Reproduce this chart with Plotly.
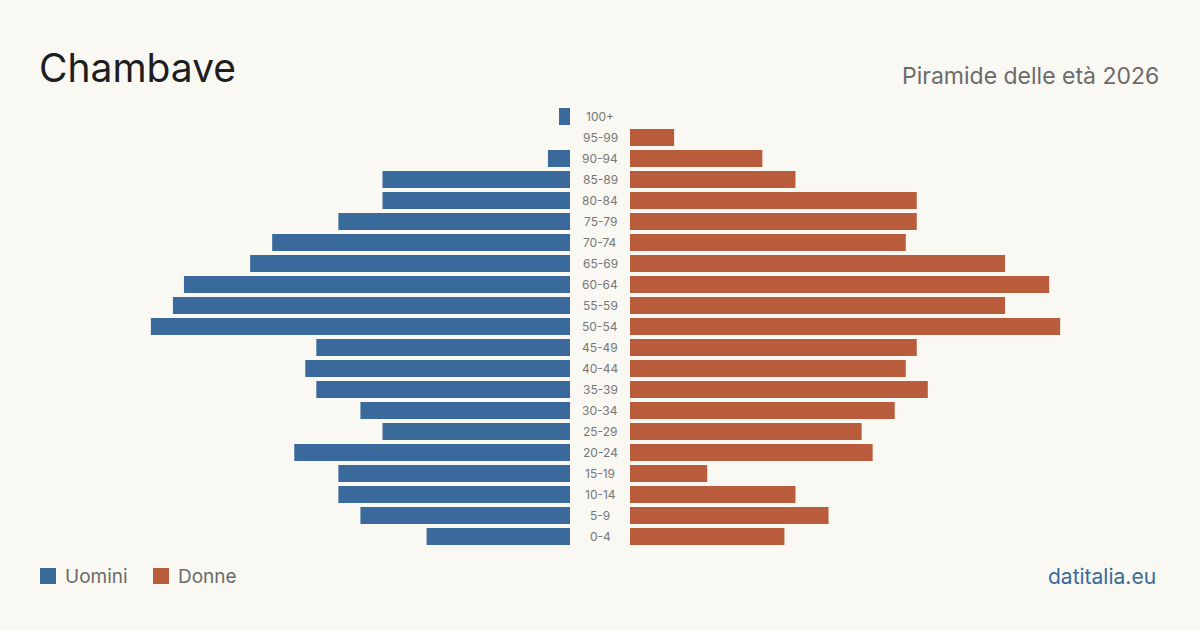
import plotly.graph_objects as go

ages = ["0-4", "5-9", "10-14", "15-19", "20-24", "25-29", "30-34", "35-39", "40-44",
        "45-49", "50-54", "55-59", "60-64", "65-69", "70-74", "75-79", "80-84",
        "85-89", "90-94", "95-99", "100+"]
uomini = [13, 19, 21, 21, 25, 17, 19, 23, 24, 23, 38, 36, 35, 29, 27, 21, 17, 17, 2, 0, 1]
donne = [14, 18, 15, 7, 22, 21, 24, 27, 25, 26, 39, 34, 38, 34, 25, 26, 26, 15, 12, 4, 0]

title = "Chambave"
subtitle = "Piramide delle età 2026"
source = "datitalia.eu"
legend_names = ["Uomini", "Donne"]

BLUE = "#3a6a9c"
ORANGE = "#b95c3c"
BG = "#f9f8f3"
FONT = "Inter, Noto Sans, sans-serif"

W, H = 1200, 630
scale = 11.03  # px per person
xmax = 570 / scale

fig = go.Figure()
fig.add_trace(go.Bar(y=ages, x=uomini, orientation="h", marker=dict(color=BLUE, line=dict(width=0)),
                     xaxis="x", yaxis="y", name=legend_names[0], showlegend=False,
                     hoverinfo="x+y"))
fig.add_trace(go.Bar(y=ages, x=donne, orientation="h", marker=dict(color=ORANGE, line=dict(width=0)),
                     xaxis="x2", yaxis="y", name=legend_names[1], showlegend=False,
                     hoverinfo="x+y"))

annotations = []
for a in ages:
    annotations.append(dict(x=600 / W, xref="paper", y=a, yref="y", text=a,
                            showarrow=False, xanchor="center", yanchor="middle",
                            font=dict(family=FONT, size=12, color="#777777")))

annotations += [
    dict(x=37 / W, y=1 - 42 / H, xref="paper", yref="paper", text=title, showarrow=False,
         xanchor="left", yanchor="top", font=dict(family=FONT, size=39, color="#1e1e1e")),
    dict(x=1161 / W, y=1 - 60 / H, xref="paper", yref="paper", text=subtitle, showarrow=False,
         xanchor="right", yanchor="top", font=dict(family=FONT, size=23, color="#6b6b6b")),
    dict(x=1158 / W, y=1 - 576 / H, xref="paper", yref="paper", text=source, showarrow=False,
         xanchor="right", yanchor="middle", font=dict(family=FONT, size=21, color="#3a6a9c")),
    dict(x=63 / W, y=1 - 576 / H, xref="paper", yref="paper", text=legend_names[0], showarrow=False,
         xanchor="left", yanchor="middle", font=dict(family=FONT, size=19, color="#6b6b6b")),
    dict(x=176 / W, y=1 - 576 / H, xref="paper", yref="paper", text=legend_names[1], showarrow=False,
         xanchor="left", yanchor="middle", font=dict(family=FONT, size=19, color="#6b6b6b")),
]

shapes = [
    dict(type="rect", xref="paper", yref="paper", x0=40 / W, x1=56 / W,
         y0=1 - 584 / H, y1=1 - 568 / H, fillcolor=BLUE, line_width=0),
    dict(type="rect", xref="paper", yref="paper", x0=153 / W, x1=169 / W,
         y0=1 - 584 / H, y1=1 - 568 / H, fillcolor=ORANGE, line_width=0),
]

fig.update_layout(
    width=W, height=H,
    margin=dict(l=0, r=0, t=0, b=0),
    paper_bgcolor=BG, plot_bgcolor=BG,
    bargap=4 / 21,
    xaxis=dict(domain=[0, 570 / W], range=[xmax, 0], visible=False, fixedrange=True),
    xaxis2=dict(domain=[630 / W, 1], range=[0, xmax], visible=False, anchor="y", fixedrange=True),
    yaxis=dict(domain=[1 - 547 / H, 1 - 106 / H], categoryorder="array", categoryarray=ages,
               range=[-0.5, 20.5], visible=False, fixedrange=True),
    annotations=annotations,
    shapes=shapes,
)

fig.write_html("out.html")
